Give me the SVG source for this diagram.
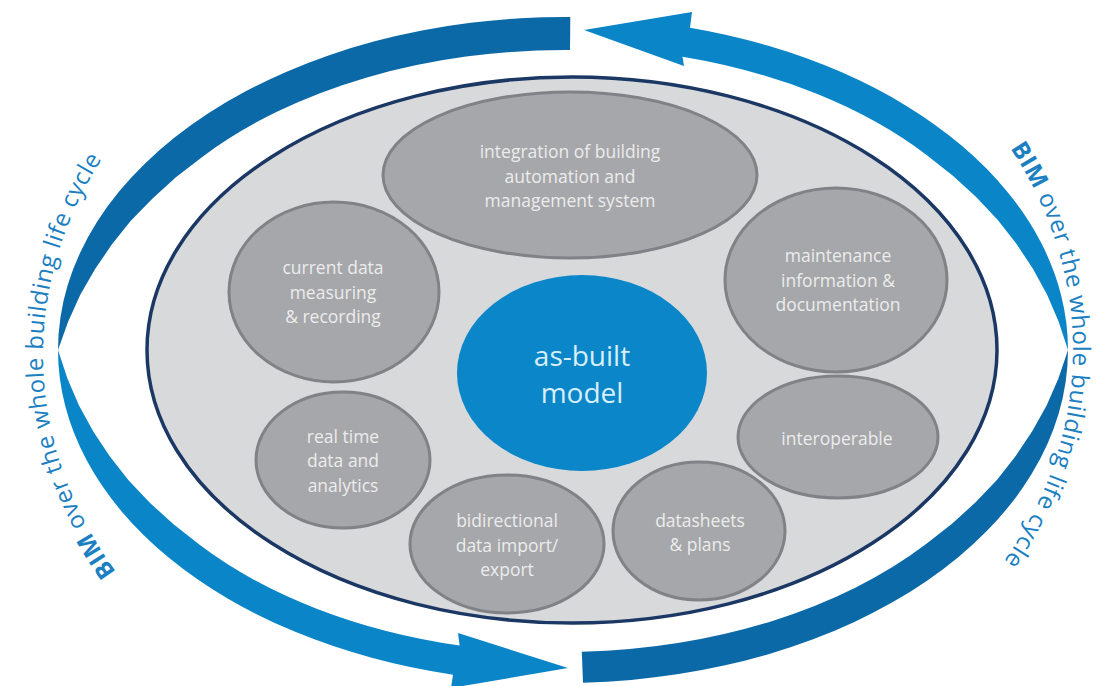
<svg xmlns="http://www.w3.org/2000/svg" width="1107" height="686" viewBox="0 0 1107 686">
<defs>
<style>
.node ellipse{fill:#a6a7aa;stroke:#818286;stroke-width:3}
.node text{font-family:"Open Sans","Liberation Sans",sans-serif;font-size:17.5px;fill:#ececec;text-anchor:middle}
.dark{fill:#0c69a8}
.light{fill:#0a85c8}
.cyc{font-family:"Open Sans","Liberation Sans",sans-serif;font-size:24px;fill:#1b7fc2}
</style>
<path id="tpL" d="M 240.1,687.6 A 522 425 0 0 1 219.1,36.7"/>
<path id="tpR" d="M 890.8,28.3 A 510 420 0 0 1 881.2,678.2"/>
</defs>
<rect width="1107" height="686" fill="#ffffff"/>
<g id="container">
<ellipse cx="572" cy="350" rx="425" ry="273" fill="#d8d9db" stroke="#1b3764" stroke-width="3.5"/>
</g>
<g id="connectors">
<path class="dark" d="M 570.3,17 A 507 333 0 0 0 58,350 L 68.1,321.7 L 80.3,294.8 L 95.1,269.1 L 111.8,244.6 L 130.6,221 L 152.3,198.7 L 175.9,177.3 L 201.9,157.2 A 474 300 0 0 1 570,50 Z"/>
<path class="light" d="M 58,350 A 507 333 0 0 0 453,674.7 L 451,688 L 568,668 L 458,633 L 459.6,645.5 A 477 303 0 0 1 199.6,544.8 L 173.5,524.3 L 149.8,502.7 L 128.3,480.1 L 109.7,456.2 L 93.3,431.4 L 79,405.5 L 67.4,378.4 Z"/>
<path class="light" d="M 690,27.7 L 692,12 L 584,30 L 684,66 L 682.5,56.7 A 475 303 0 0 1 926.9,155.2 L 952.9,175.7 L 976.4,197.3 L 997.8,219.9 L 1016.4,243.8 L 1032.8,268.6 L 1047,294.5 L 1058.6,321.6 L 1068,350 A 505 333 0 0 0 690,27.7 Z"/>
<path class="dark" d="M 1068,350 A 505 333 0 0 1 583,682.7 L 581.8,651.8 A 474 302 0 0 0 926.1,544.1 L 952,523.7 L 975.6,502.3 L 997.1,479.7 L 1015.7,455.9 L 1032.2,431.2 L 1046.6,405.4 L 1058.4,378.4 Z"/>
</g>
<g id="cycle-labels">
<text class="cyc"><textPath href="#tpL" startOffset="50%" text-anchor="middle" textLength="440" lengthAdjust="spacing"><tspan font-weight="bold">BIM</tspan> over the whole building life cycle</textPath></text>
<text class="cyc"><textPath href="#tpR" startOffset="50%" text-anchor="middle" textLength="440" lengthAdjust="spacing"><tspan font-weight="bold">BIM</tspan> over the whole building life cycle</textPath></text>
</g>
<g id="node-integration" class="node">
<ellipse cx="570" cy="175" rx="187" ry="83"/>
<text x="570" y="158">integration of building</text>
<text x="570" y="182.5">automation and</text>
<text x="570" y="207">management system</text>
</g>
<g id="node-current" class="node">
<ellipse cx="334" cy="292" rx="105" ry="90"/>
<text x="333" y="274">current data</text>
<text x="333" y="299">measuring</text>
<text x="333" y="323">&amp; recording</text>
</g>
<g id="node-maintenance" class="node">
<ellipse cx="836" cy="280" rx="111" ry="92"/>
<text x="838" y="262">maintenance</text>
<text x="838" y="287">information &amp;</text>
<text x="838" y="311">documentation</text>
</g>
<g id="node-asbuilt">
<ellipse cx="582" cy="373" rx="125" ry="98" fill="#0a86c9"/>
<text x="582" y="366" font-family="Open Sans, Liberation Sans, sans-serif" font-size="28" fill="#d8eef9" text-anchor="middle">as-built</text>
<text x="582" y="403" font-family="Open Sans, Liberation Sans, sans-serif" font-size="28" fill="#d8eef9" text-anchor="middle">model</text>
</g>
<g id="node-realtime" class="node">
<ellipse cx="343" cy="460" rx="87" ry="68"/>
<text x="343" y="443">real time</text>
<text x="343" y="467">data and</text>
<text x="343" y="492">analytics</text>
</g>
<g id="node-bidirectional" class="node">
<ellipse cx="507" cy="544" rx="97" ry="69"/>
<text x="507" y="527">bidirectional</text>
<text x="507" y="552">data import/</text>
<text x="507" y="576">export</text>
</g>
<g id="node-interoperable" class="node">
<ellipse cx="838" cy="437" rx="100" ry="61"/>
<text x="837" y="445">interoperable</text>
</g>
<g id="node-datasheets" class="node">
<ellipse cx="699" cy="531" rx="86" ry="69"/>
<text x="700" y="527">datasheets</text>
<text x="700" y="551">&amp; plans</text>
</g>
</svg>
